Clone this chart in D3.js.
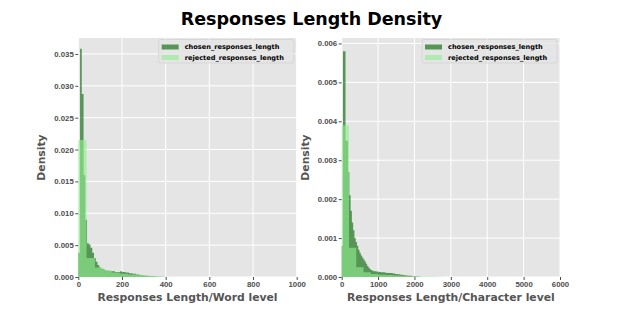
<!DOCTYPE html>
<html>
<head>
<meta charset="utf-8">
<script src="https://cdn.jsdelivr.net/npm/d3@7"></script>
<style>
  body { margin: 0; background: #fff; }
  svg { display: block; font-family: "DejaVu Sans", sans-serif; }
  .tick text { font-size: 7.8px; font-weight: bold; fill: #4d4d4d; }
  .tick line { stroke: #4d4d4d; }
  .axis-label { font-size: 10.8px; font-weight: bold; fill: #555; }
  .legend-text { font-size: 6.6px; font-weight: bold; fill: #000; }
</style>
</head>
<body>
<svg id="chart" width="623" height="312"></svg>
<script>
// Хистограми (density), стойности отчетени от картинката
const seriesNames = ["chosen_responses_length", "rejected_responses_length"];

// Word level
const wordTicksX = [0, 200, 400, 600, 800, 1000];
const wordTicksY = [0, 0.005, 0.01, 0.015, 0.02, 0.025, 0.03, 0.035];
const chosenWordBin = 8;
const chosenWordDensity = [
  0.0038, 0.0358, 0.0287, 0.016, 0.009, 0.0053, 0.0051, 0.0046, 0.0038, 0.003,
  0.0024, 0.0019, 0.0015, 0.0013, 0.0012, 0.0011, 0.001, 0.001, 0.0009, 0.0009,
  0.0009, 0.0008, 0.0008, 0.0008, 0.0009, 0.0008, 0.0008, 0.0007, 0.0007, 0.0006,
  0.0006, 0.0005, 0.0005, 0.0004, 0.0004, 0.0003, 0.0003, 0.00025, 0.0002, 0.0002,
  0.00015, 0.00012, 0.0001, 0.00008, 0.00006, 0.00005, 0.00004, 0.00003, 0.00002, 0.00001,
];
const rejectedWordBin = 38;
const rejectedWordDensity = [
  0.0215, 0.003, 0.0015, 0.0011, 0.0007, 0.0005, 0.0004, 0.0003, 0.0002, 0.0001, 0.00005,
];

// Character level
const charTicksX = [0, 1000, 2000, 3000, 4000, 5000, 6000];
const charTicksY = [0, 0.001, 0.002, 0.003, 0.004, 0.005, 0.006];
const chosenCharBin = 35;
const chosenCharDensity = [
  0.0008, 0.0058, 0.0058, 0.0035, 0.0035, 0.0027, 0.0021, 0.0017, 0.0014, 0.0012,
  0.001, 0.0009, 0.0008, 0.0007, 0.00062, 0.00055, 0.0005, 0.00045, 0.0004, 0.00034,
  0.00028, 0.00024, 0.0002, 0.00018, 0.00016, 0.00015, 0.00015, 0.00014, 0.00014, 0.00013,
  0.00013, 0.00012, 0.00012, 0.00012, 0.00011, 0.00011, 0.0001, 0.0001, 0.0001, 0.0001,
  0.00009, 0.00009, 0.00008, 0.00008, 0.00007, 0.00007, 0.00006, 0.00006, 0.00005, 0.00005,
  0.00004, 0.00004, 0.00003, 0.00003, 0.00003, 0.00002, 0.00002, 0.00002, 0.00001, 0.00001,
  0.00001,
];
const rejectedCharBin = 200;
const rejectedCharDensity = [
  0.0039, 0.00075, 0.00025, 0.00012, 0.00008, 0.00006, 0.00005, 0.00004, 0.00003, 0.00002,
  0.00002, 0.00001, 0.00001, 0.000005,
];

const chosenColor = "#006400";
const rejectedColor = "#90ee90";
const barOpacity = 0.62;

const svg = d3.select("#chart");

svg
  .append("text")
  .attr("x", 311.5)
  .attr("y", 25)
  .attr("text-anchor", "middle")
  .style("font-size", "17.5px")
  .style("font-weight", "bold")
  .text("Responses Length Density");

drawPanel({
  left: 78.3,
  right: 296.7,
  xMax: 1000,
  yMax: 0.0375,
  ticksX: wordTicksX,
  ticksY: wordTicksY,
  xLabel: "Responses Length/Word level",
  chosen: chosenWordDensity,
  chosenBin: chosenWordBin,
  rejected: rejectedWordDensity,
  rejectedBin: rejectedWordBin,
});

drawPanel({
  left: 341.7,
  right: 560,
  xMax: 6000,
  yMax: 0.00614,
  ticksX: charTicksX,
  ticksY: charTicksY,
  xLabel: "Responses Length/Character level",
  chosen: chosenCharDensity,
  chosenBin: chosenCharBin,
  rejected: rejectedCharDensity,
  rejectedBin: rejectedCharBin,
});

function drawPanel(p) {
  const top = 38;
  const bottom = 277;

  const x = d3.scaleLinear().domain([0, p.xMax]).range([p.left, p.right]);
  const y = d3.scaleLinear().domain([0, p.yMax]).range([bottom, top]);

  const g = svg.append("g");

  g.append("rect")
    .attr("x", p.left)
    .attr("y", top)
    .attr("width", p.right - p.left)
    .attr("height", bottom - top)
    .attr("fill", "#e5e5e5");

  // сетка
  g.append("g")
    .selectAll("line")
    .data(p.ticksX)
    .join("line")
    .attr("x1", (d) => x(d))
    .attr("x2", (d) => x(d))
    .attr("y1", top)
    .attr("y2", bottom)
    .attr("stroke", "#fff")
    .attr("stroke-width", 1);

  g.append("g")
    .selectAll("line")
    .data(p.ticksY)
    .join("line")
    .attr("x1", p.left)
    .attr("x2", p.right)
    .attr("y1", (d) => y(d))
    .attr("y2", (d) => y(d))
    .attr("stroke", "#fff")
    .attr("stroke-width", 1);

  // всяка серия като една стъпаловидна фигура, за да няма шевове между стълбовете
  const area = d3
    .area()
    .curve(d3.curveStepAfter)
    .x((d) => x(d.x0))
    .y0(bottom)
    .y1((d) => y(d.v));

  const bars = (values, bin, color) => {
    const pts = values.map((v, i) => ({ x0: i * bin, v: v }));
    pts.push({ x0: values.length * bin, v: 0 });
    g.append("path")
      .datum(pts)
      .attr("d", area)
      .attr("fill", color)
      .attr("fill-opacity", barOpacity);
  };
  bars(p.chosen, p.chosenBin, chosenColor);
  bars(p.rejected, p.rejectedBin, rejectedColor);

  const xAxis = g
    .append("g")
    .attr("color", "#4d4d4d")
    .attr("transform", `translate(0,${bottom})`)
    .call(
      d3.axisBottom(x).tickValues(p.ticksX).tickSize(3).tickPadding(1.5).tickFormat(d3.format("d")),
    );
  xAxis.select(".domain").remove();

  const yAxis = g
    .append("g")
    .attr("color", "#4d4d4d")
    .attr("transform", `translate(${p.left},0)`)
    .call(
      d3.axisLeft(y).tickValues(p.ticksY).tickSize(3).tickPadding(1.5).tickFormat(d3.format(".3f")),
    );
  yAxis.select(".domain").remove();

  g.append("text")
    .attr("class", "axis-label")
    .attr("x", (p.left + p.right) / 2)
    .attr("y", 300.5)
    .attr("text-anchor", "middle")
    .text(p.xLabel);

  g.append("text")
    .attr("class", "axis-label")
    .attr("transform", `translate(${p.left - 33},${(top + bottom) / 2}) rotate(-90)`)
    .attr("text-anchor", "middle")
    .text("Density");

  // легенда
  const lx = p.right - 138;
  const ly = top + 1.5;
  const legend = g.append("g").attr("transform", `translate(${lx},${ly})`);
  legend
    .append("rect")
    .attr("width", 135)
    .attr("height", 23.5)
    .attr("rx", 2)
    .attr("fill", "#e5e5e5")
    .attr("fill-opacity", 0.8)
    .attr("stroke", "#ccc")
    .attr("stroke-width", 0.6);

  const colors = [chosenColor, rejectedColor];
  seriesNames.forEach((name, i) => {
    const row = legend.append("g").attr("transform", `translate(3,${7.5 + i * 10.5})`);
    row
      .append("rect")
      .attr("width", 17)
      .attr("height", 5)
      .attr("y", -2.5)
      .attr("fill", colors[i])
      .attr("fill-opacity", barOpacity);
    row
      .append("text")
      .attr("class", "legend-text")
      .attr("x", 23)
      .attr("y", 2.3)
      .text(name);
  });
}
</script>
</body>
</html>
